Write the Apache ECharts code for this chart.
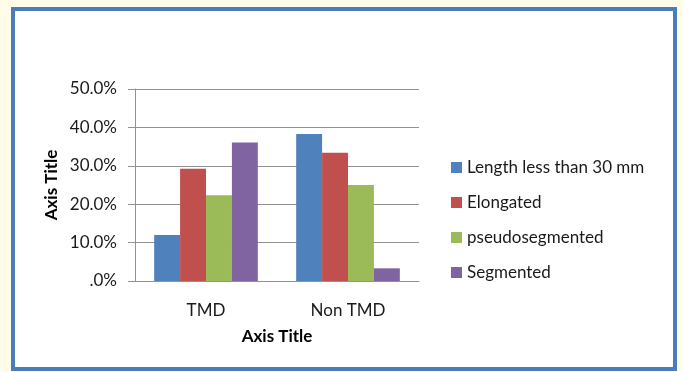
<!DOCTYPE html>
<html>
<head>
<meta charset="utf-8">
<style>
  html, body { margin: 0; padding: 0; background: #fffdea; }
  #chart { width: 683px; height: 372px; }
</style>
<script src="https://cdn.jsdelivr.net/npm/echarts@6/dist/echarts.min.js"></script>
</head>
<body>
<div id="chart"></div>
<script>
// Groups on the category axis
const categories = ['TMD', 'Non TMD'];

// Share of each styloid type per group (%)
const seriesNames = ['Length less than 30 mm', 'Elongated', 'pseudosegmented', 'Segmented'];
const lengthLess30 = [12.0, 38.3];
const elongated = [29.2, 33.4];
const pseudosegmented = [22.3, 25.0];
const segmented = [36.1, 3.3];

const seriesValues = [lengthLess30, elongated, pseudosegmented, segmented];
const colors = ['#4f81bd', '#c0504d', '#9bbb59', '#8064a2'];

const FONT = 'Lato, "Open Sans", sans-serif';

const chart = echarts.init(document.getElementById('chart'), null, { renderer: 'canvas' });

chart.setOption({
  backgroundColor: '#fffdea',
  animation: false,
  graphic: [{
    type: 'rect',
    z: -10,
    shape: { x: 13, y: 9, width: 662, height: 360 },
    style: { fill: '#ffffff', stroke: '#4a7ebb', lineWidth: 4 }
  }],
  grid: { left: 135, right: 264, top: 89, bottom: 91 },
  legend: {
    orient: 'vertical',
    left: 446,
    top: 154,
    itemWidth: 11,
    itemHeight: 11,
    itemGap: 18,
    icon: 'rect',
    textStyle: { fontFamily: FONT, fontSize: 17, color: '#1a1a1a' },
    data: seriesNames
  },
  xAxis: {
    type: 'category',
    data: categories,
    name: 'Axis Title',
    nameLocation: 'middle',
    nameGap: 47,
    nameTextStyle: { fontFamily: FONT, fontSize: 17, fontWeight: 'bold', color: '#000' },
    axisLine: { lineStyle: { color: '#929292', width: 1 } },
    axisTick: { show: false },
    axisLabel: { fontFamily: FONT, fontSize: 17, color: '#1a1a1a', margin: 21 }
  },
  yAxis: {
    type: 'value',
    min: 0,
    max: 50,
    interval: 10,
    name: 'Axis Title',
    nameLocation: 'middle',
    nameGap: 75,
    nameTextStyle: { fontFamily: FONT, fontSize: 17, fontWeight: 'bold', color: '#000' },
    axisLine: { show: true, lineStyle: { color: '#929292', width: 1 } },
    axisTick: { show: true, length: 7, lineStyle: { color: '#929292' } },
    splitLine: { lineStyle: { color: '#929292', width: 1 } },
    axisLabel: {
      fontFamily: FONT, fontSize: 17, color: '#1a1a1a', margin: 18,
      formatter: v => v === 0 ? '.0%' : v.toFixed(1) + '%'
    }
  },
  series: seriesNames.map((name, i) => ({
    name,
    type: 'bar',
    data: seriesValues[i],
    barGap: '0%',
    barCategoryGap: '27%',
    itemStyle: { color: colors[i] }
  }))
});
</script>
</body>
</html>
